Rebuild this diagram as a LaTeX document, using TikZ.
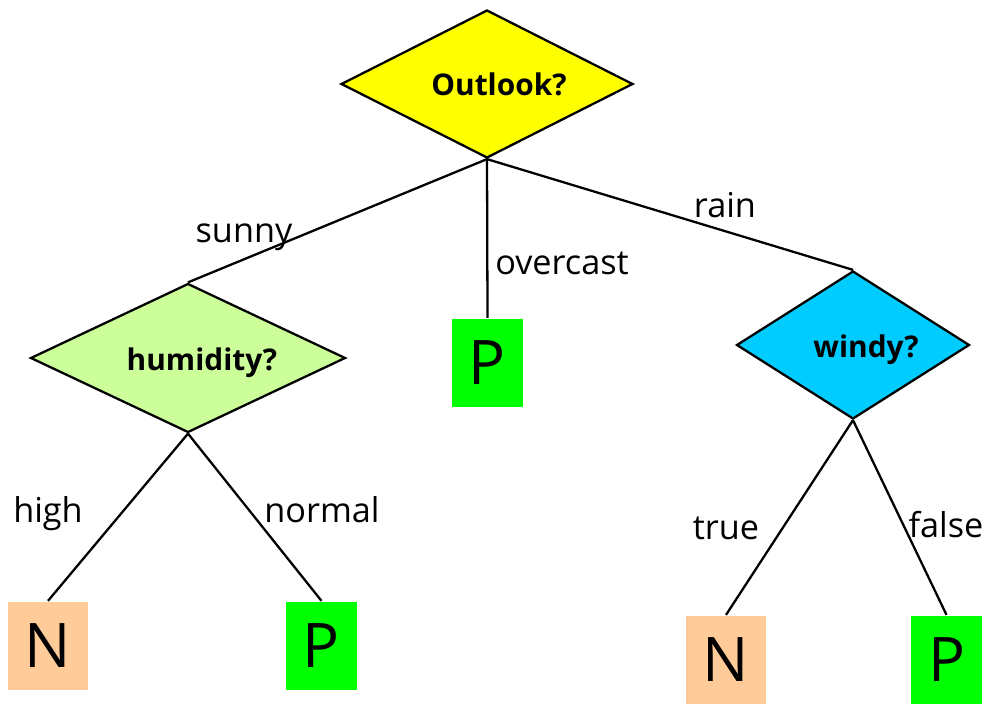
\documentclass[tikz,border=0pt]{standalone}
\usepackage{fontspec}
\setmainfont{Open Sans}
\usepackage{tikz}
\usetikzlibrary{shapes.geometric}
\definecolor{outlookyellow}{HTML}{FFFF00}
\definecolor{humiditygreen}{HTML}{CCFF99}
\definecolor{windycyan}{HTML}{00CCFF}
\definecolor{playgreen}{HTML}{00FF00}
\definecolor{nopeach}{HTML}{FFCC99}

\begin{document}
\begin{tikzpicture}[x=0.02cm, y=-0.02cm, line width=1.3pt,
    question/.style={diamond, draw=black, inner sep=0pt},
    qtext/.style={anchor=base, inner sep=0pt, font=\fontsize{17}{20}\selectfont\bfseries},
    leaf/.style={rectangle, inner sep=0pt, minimum height=1.76cm, font=\fontsize{35}{42}\selectfont},
    branch/.style={anchor=base, inner sep=0pt, font=\fontsize{19.5}{23}\selectfont}]

\useasboundingbox (0,0) rectangle (1000,710);

\node[question, fill=outlookyellow, minimum width=5.84cm, minimum height=2.96cm] (outlook) at (487,84) {};
\node[question, fill=humiditygreen, minimum width=6.3cm, minimum height=2.98cm] (humidity) at (188,358) {};
\node[question, fill=windycyan, minimum width=4.66cm, minimum height=2.96cm] (windy) at (853,345) {};
\node[qtext] (outlookText) at (499,95) {Outlook?};
\node[qtext] (humidityText) at (202,370) {humidity?};
\node[qtext] (windyText) at (866,357) {windy?};

\node[leaf, fill=playgreen, minimum width=1.42cm] (overcastP) at (487.5,363) {P};
\node[leaf, fill=nopeach, minimum width=1.6cm] (highN) at (48,646) {N};
\node[leaf, fill=playgreen, minimum width=1.42cm] (normalP) at (321.5,646) {P};
\node[leaf, fill=nopeach, minimum width=1.6cm] (trueN) at (726,660) {N};
\node[leaf, fill=playgreen, minimum width=1.42cm] (falseP) at (946.5,660) {P};

\draw (outlook.south) -- (humidity.north);
\draw (outlook.south) -- (overcastP.north);
\draw (outlook.south) -- (windy.north);
\draw (humidity.south) -- (highN.north);
\draw (humidity.south) -- (normalP.north);
\draw (windy.south) -- (trueN.north);
\draw (windy.south) -- (falseP.north);

\node[branch] (sunny) at (244,242) {sunny};
\node[branch] (overcast) at (562,274) {overcast};
\node[branch] (rain) at (725,217) {rain};
\node[branch] (high) at (48,522) {high};
\node[branch] (normal) at (322,522) {normal};
\node[branch] (true) at (726,539) {true};
\node[branch] (false) at (946,537) {false};
\end{tikzpicture}
\end{document}
